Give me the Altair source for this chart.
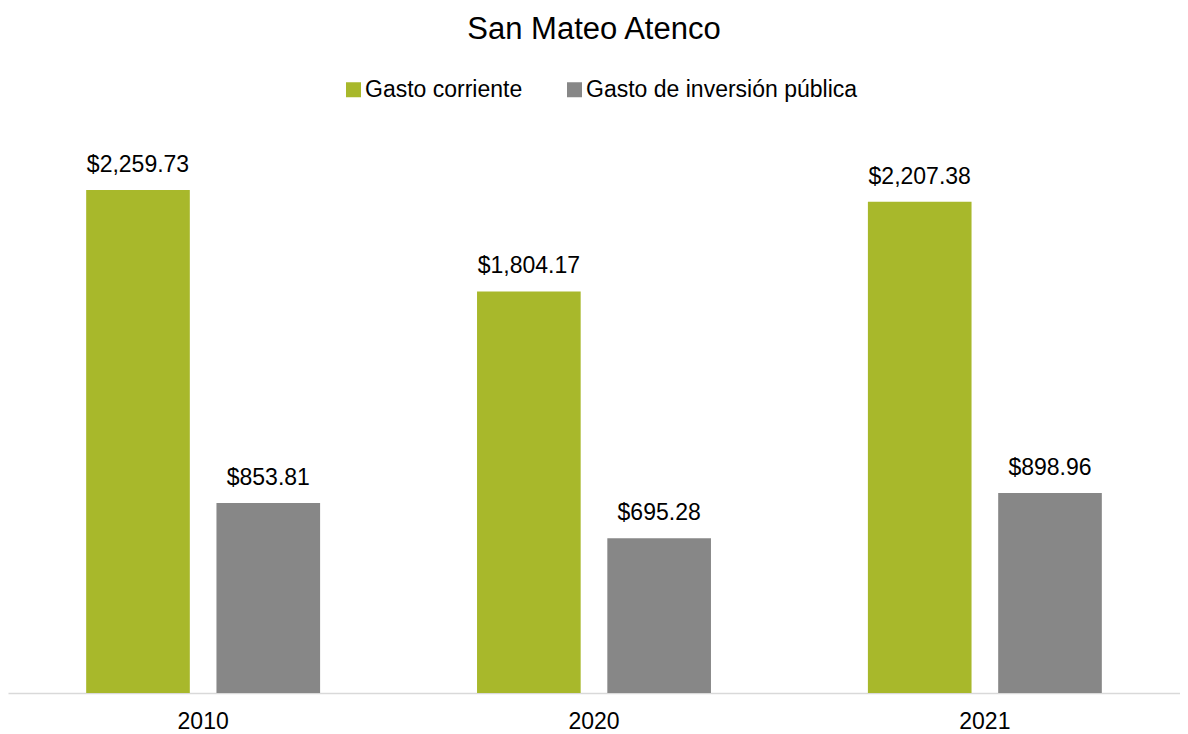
import altair as alt
import pandas as pd

years = ["2010", "2020", "2021"]
series = ["Gasto corriente", "Gasto de inversión pública"]
gasto_corriente = [2259.73, 1804.17, 2207.38]
gasto_inversion = [853.81, 695.28, 898.96]
colors = ["#A8B82B", "#878787"]

rows = []
for i, y in enumerate(years):
    rows.append({"year": y, "serie": series[0], "value": gasto_corriente[i]})
    rows.append({"year": y, "serie": series[1], "value": gasto_inversion[i]})
df = pd.DataFrame(rows)

FONT = "Liberation Sans"

base = alt.Chart(df).encode(
    x=alt.X("year:N", sort=years,
            scale=alt.Scale(paddingInner=0.4015, paddingOuter=0.2),
            axis=alt.Axis(title=None, labelAngle=0, ticks=False, labelFontSize=23,
                          labelFont=FONT, labelColor="#000000", labelPadding=17,
                          domainColor="#D9D9D9", domainWidth=1.5)),
    xOffset=alt.XOffset("serie:N", sort=series,
                        scale=alt.Scale(paddingInner=0.2045, paddingOuter=0)),
    y=alt.Y("value:Q", scale=alt.Scale(domain=[0, 2695.5], nice=False),
            axis=None),
)

bars = base.mark_bar().encode(
    color=alt.Color("serie:N", sort=series,
                    scale=alt.Scale(domain=series, range=colors),
                    legend=alt.Legend(title=None, orient="none", direction="horizontal",
                                      legendX=334, legendY=-15,
                                      symbolType="square", symbolSize=225,
                                      symbolStrokeWidth=0, labelLimit=500,
                                      labelFontSize=23, labelFont=FONT,
                                      labelColor="#000000", columnPadding=40,
                                      labelOffset=0))
)

labels = base.mark_text(baseline="alphabetic", dy=-18, fontSize=23, font=FONT,
                        color="#000000").encode(
    text=alt.Text("value:Q", format="$,.2f")
)

chart = (bars + labels).properties(
    width=1172, height=600,
    padding={"left": 0, "right": 0, "top": 6, "bottom": 0},
    title=alt.Title("San Mateo Atenco", fontSize=31, font=FONT, fontWeight="normal",
                    color="#000000", offset=32, frame="group"),
).configure_view(stroke=None)

chart.save("out.html", embed_options={"renderer": "svg", "actions": False})
